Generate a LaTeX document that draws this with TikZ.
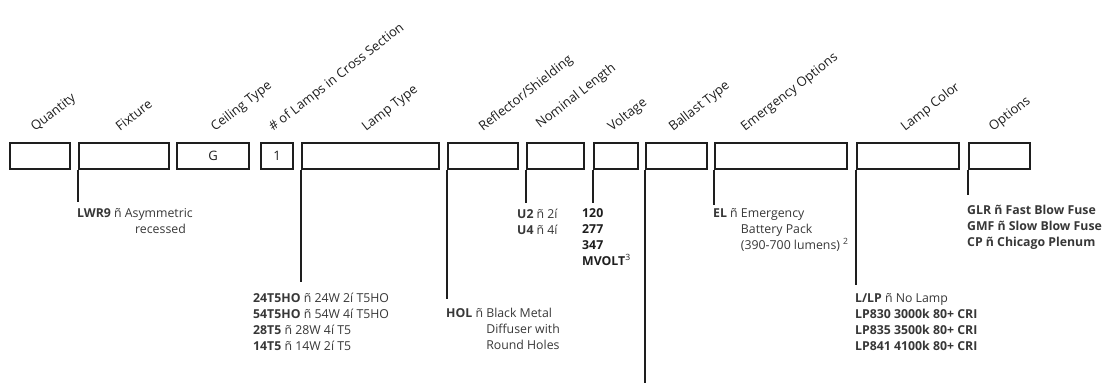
\documentclass[tikz,border=0pt]{standalone}
\usepackage{fontspec}
\setmainfont{Open Sans}
\usepackage{tikz}
\definecolor{ink}{RGB}{30,30,30}
\definecolor{txtgray}{RGB}{55,55,55}

\begin{document}
\begin{tikzpicture}[
    x=1pt, y=-1pt,
    field/.style={rectangle, draw=ink, line width=2pt, inner sep=0pt, minimum height=26pt, anchor=north west, font=\fontsize{13}{15}\selectfont, text=ink},
    head/.style={rotate=38, anchor=base west, inner sep=0pt, font=\fontsize{13}{15}\selectfont, text=ink},
    lead/.style={line width=2pt, ink},
    desc/.style={anchor=base west, inner sep=0pt, font=\fontsize{12.3}{16}\selectfont, text=txtgray},
]
\useasboundingbox (0,0) rectangle (1114,391);

% order code fields
\node[field, minimum width=60pt]  (qty)       at (9,142)   {};
\node[field, minimum width=90pt]  (fixture)   at (78,142)  {};
\node[field, minimum width=72pt]  (ceiling)   at (176,142) {G};
\node[field, minimum width=32pt]  (nlamps)    at (260,142) {1};
\node[field, minimum width=137pt] (lamptype)  at (301,142) {};
\node[field, minimum width=70pt]  (reflector) at (447,142) {};
\node[field, minimum width=57pt]  (length)    at (526,142) {};
\node[field, minimum width=44pt]  (voltage)   at (593,142) {};
\node[field, minimum width=61pt]  (ballast)   at (645,142) {};
\node[field, minimum width=132pt] (emergency) at (714,142) {};
\node[field, minimum width=102pt] (lampcolor) at (856,142) {};
\node[field, minimum width=61pt]  (options)   at (968,142) {};

% slanted headings
\node[head] (h-qty)       at (35,132)  {Quantity};
\node[head] (h-fixture)   at (120,132) {Fixture};
\node[head] (h-ceiling)   at (215,132) {Ceiling Type};
\node[head] (h-nlamps)    at (273,132) {\# of Lamps in Cross Section};
\node[head] (h-lamptype)  at (366,132) {Lamp Type};
\node[head] (h-reflector) at (483,132) {Reflector/Shielding};
\node[head] (h-length)    at (540,129) {Nominal Length};
\node[head] (h-voltage)   at (612,132) {Voltage};
\node[head] (h-ballast)   at (673,132) {Ballast Type};
\node[head] (h-emergency) at (745,132) {Emergency Options};
\node[head] (h-lampcolor) at (905,132) {Lamp Color};
\node[head] (h-options)   at (993,132) {Options};

% choices
\node[desc] (d-fixture) at (77,217) {\begin{tabular}[t]{@{}l@{}}\textbf{LWR9} ñ Asymmetric\\ \hspace*{58pt}recessed\end{tabular}};
\node[desc] (d-lamptype) at (253,302) {\begin{tabular}[t]{@{}l@{}}\textbf{24T5HO} ñ 24W 2í T5HO\\ \textbf{54T5HO} ñ 54W 4í T5HO\\ \textbf{28T5} ñ 28W 4í T5\\ \textbf{14T5} ñ 14W 2í T5\end{tabular}};
\node[desc] (d-reflector) at (446,317) {\begin{tabular}[t]{@{}l@{ }l@{}}\textbf{HOL} ñ & Black Metal\\ & Diffuser with\\ & Round Holes\end{tabular}};
\node[desc] (d-length) at (517,218) {\begin{tabular}[t]{@{}l@{}}\textbf{U2} ñ 2í\\ \textbf{U4} ñ 4í\end{tabular}};
\node[desc, text=ink] (d-voltage) at (582,217) {\begin{tabular}[t]{@{}l@{}}\textbf{120}\\ \textbf{277}\\ \textbf{347}\\ \textbf{MVOLT}\textsuperscript{3}\end{tabular}};
\node[desc] (d-emergency) at (713,217) {\begin{tabular}[t]{@{}l@{ }l@{}}\textbf{EL} ñ & Emergency\\ & Battery Pack\\ & (390-700 lumens) \textsuperscript{2}\end{tabular}};
\node[desc] (d-lampcolor) at (855,302) {\begin{tabular}[t]{@{}l@{}}\textbf{L/LP} ñ No Lamp\\ \textbf{LP830 3000k 80+ CRI}\\ \textbf{LP835 3500k 80+ CRI}\\ \textbf{LP841 4100k 80+ CRI}\end{tabular}};
\node[desc] (d-options) at (967,214) {\begin{tabular}[t]{@{}l@{}}\textbf{GLR ñ Fast Blow Fuse}\\ \textbf{GMF ñ Slow Blow Fuse}\\ \textbf{CP ñ Chicago Plenum}\end{tabular}};

% leader ends
\coordinate (e-fixture)   at (78,202);
\coordinate (e-lamptype)  at (301,282);
\coordinate (e-reflector) at (447,299);
\coordinate (e-length)    at (526,203);
\coordinate (e-voltage)   at (593,203);
\coordinate (e-ballast)   at (645,383);
\coordinate (e-emergency) at (714,205);
\coordinate (e-lampcolor) at (856,285);
\coordinate (e-options)   at (968,195);

\draw[lead] (fixture.south west) -- (e-fixture);
\draw[lead] (lamptype.south west) -- (e-lamptype);
\draw[lead] (reflector.south west) -- (e-reflector);
\draw[lead] (length.south west) -- (e-length);
\draw[lead] (voltage.south west) -- (e-voltage);
\draw[lead] (ballast.south west) -- (e-ballast);
\draw[lead] (emergency.south west) -- (e-emergency);
\draw[lead] (lampcolor.south west) -- (e-lampcolor);
\draw[lead] (options.south west) -- (e-options);
\end{tikzpicture}
\end{document}
